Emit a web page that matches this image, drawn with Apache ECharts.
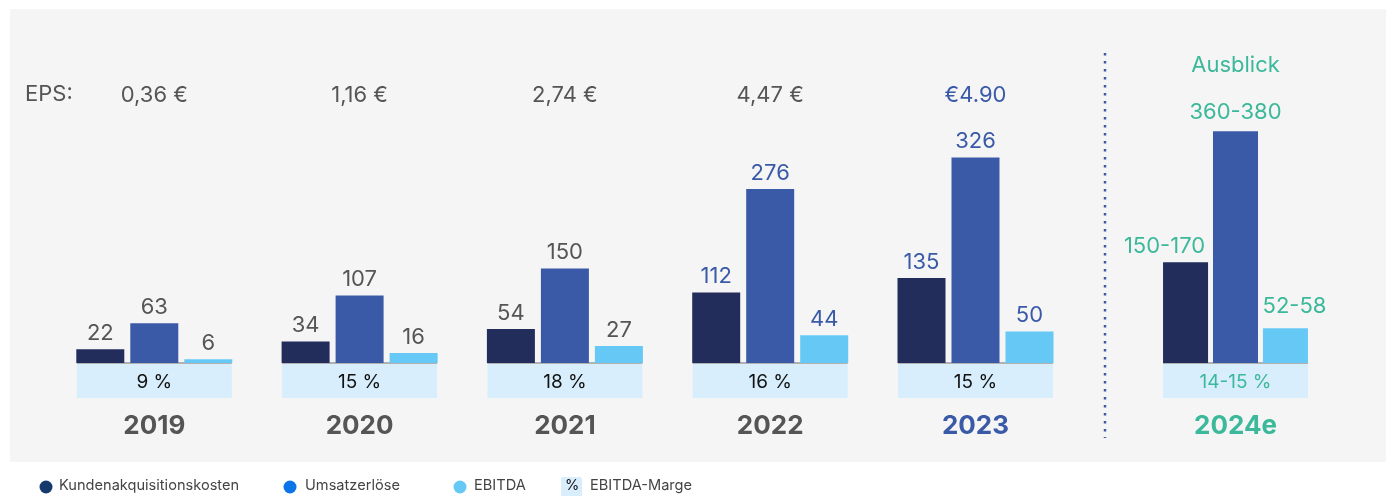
<!DOCTYPE html>
<html>
<head>
<meta charset="utf-8">
<script src="https://cdn.jsdelivr.net/npm/echarts@6/dist/echarts.min.js"></script>
<style>
html,body{margin:0;padding:0;background:#fff;}
#chart{width:1389px;height:496px;}
</style>
</head>
<body>
<div id="chart"></div>
<script>
// ---- data ----
const categories = ['2019', '2020', '2021', '2022', '2023'];
const kundenakquisitionskosten = [22, 34, 54, 112, 135];
const umsatzerloese = [63, 107, 150, 276, 326];
const ebitda = [6, 16, 27, 44, 50];
const ebitdaMarge = [9, 15, 18, 16, 15];
const epsLabels = ['0,36 €', '1,16 €', '2,74 €', '4,47 €', '€4.90'];

const outlookCategories = ['2024e'];
const outlookKak = [160];
const outlookKakLabel = ['150-170'];
const outlookUmsatz = [368];
const outlookUmsatzLabel = ['360-380'];
const outlookEbitda = [55];
const outlookEbitdaLabel = ['52-58'];
const outlookMarge = [14.5];
const outlookMargeLabel = ['14-15 %'];
const outlookTitle = ['Ausblick'];

const legendNames = ['Kundenakquisitionskosten', 'Umsatzerlöse', 'EBITDA', 'EBITDA-Marge'];

// ---- styles ----
const FONT = 'Inter, "Noto Sans", sans-serif';
const C_DARK = '#232d5c', C_BLUE = '#3a5aa8', C_LIGHT = '#66c8f4';
const C_GRAY = '#555555', C_GREEN = '#3cb89a';
const yearColors = [C_GRAY, C_GRAY, C_GRAY, C_GRAY, C_BLUE];
const valueColors = [C_GRAY, C_GRAY, C_GRAY, C_BLUE, C_BLUE];
const epsColors = [C_GRAY, C_GRAY, C_GRAY, C_GRAY, C_BLUE];

const chart = echarts.init(document.getElementById('chart'));

function valueLabel(color, text, offset) {
  const l = {show: true, position: 'top', distance: 5, color: color, fontFamily: FONT, fontSize: 22};
  if (text !== undefined) l.formatter = text;
  if (offset) l.offset = offset;
  return l;
}
function mkData(vals, colors, texts, offset) {
  return vals.map((v, i) => ({value: v, label: valueLabel(colors[i], texts ? texts[i] : undefined, offset)}));
}

function marginRenderer(labels, color, w) {
  return function (params, api) {
    const idx = api.value(0);
    const p = api.coord([idx, 0]);
    return {
      type: 'group',
      children: [
        {type: 'rect', shape: {x: p[0] - w / 2, y: p[1] + 1, width: w, height: 34}, style: {fill: '#d8eefc'}},
        {type: 'line', shape: {x1: p[0] - w / 2, y1: p[1], x2: p[0] + w / 2, y2: p[1]}, style: {stroke: '#9a9a9a', lineWidth: 1.5}},
        {type: 'text', style: {text: labels[params.dataIndex], x: p[0], y: p[1] + 19, align: 'center', verticalAlign: 'middle',
          fill: color, font: '19px ' + FONT}}
      ]
    };
  };
}

const gridTop = 111, gridBottom = 133;
const barCommon = {type: 'bar', barWidth: 48, barGap: '12.5%', z: 3};
const barOutlook = {type: 'bar', barWidth: 45, barGap: '11%', z: 3};

const option = {
  backgroundColor: '#ffffff',
  animation: false,
  grid: [
    {left: 51.65, width: 1026.5, top: gridTop, bottom: gridBottom},
    {left: 1135.5, width: 200, top: gridTop, bottom: gridBottom}
  ],
  xAxis: [
    {type: 'category', gridIndex: 0, data: categories, position: 'bottom',
      axisLine: {show: false}, axisTick: {show: false},
      axisLabel: {margin: 50, fontFamily: FONT, fontSize: 26, fontWeight: 'bold',
        color: (v, i) => yearColors[i]}},
    {type: 'category', gridIndex: 0, data: epsLabels, position: 'top',
      axisLine: {show: false}, axisTick: {show: false},
      axisLabel: {margin: 5, fontFamily: FONT, fontSize: 22, color: (v, i) => epsColors[i]}},
    {type: 'category', gridIndex: 1, data: outlookCategories, position: 'bottom',
      axisLine: {show: false}, axisTick: {show: false},
      axisLabel: {margin: 50, fontFamily: FONT, fontSize: 26, fontWeight: 'bold', color: C_GREEN}},
    {type: 'category', gridIndex: 1, data: outlookTitle, position: 'top',
      axisLine: {show: false}, axisTick: {show: false},
      axisLabel: {margin: 35, fontFamily: FONT, fontSize: 22, color: C_GREEN}}
  ],
  yAxis: [
    {type: 'value', gridIndex: 0, min: 0, max: 400, show: false},
    {type: 'value', gridIndex: 1, min: 0, max: 400, show: false}
  ],
  series: [
    Object.assign({}, barCommon, {name: legendNames[0], xAxisIndex: 0, yAxisIndex: 0,
      itemStyle: {color: C_DARK}, data: mkData(kundenakquisitionskosten, valueColors)}),
    Object.assign({}, barCommon, {name: legendNames[1], xAxisIndex: 0, yAxisIndex: 0,
      itemStyle: {color: C_BLUE}, data: mkData(umsatzerloese, valueColors)}),
    Object.assign({}, barCommon, {name: legendNames[2], xAxisIndex: 0, yAxisIndex: 0,
      itemStyle: {color: C_LIGHT}, data: mkData(ebitda, valueColors)}),
    {type: 'custom', name: legendNames[3], xAxisIndex: 0, yAxisIndex: 0, z: 2, clip: false,
      renderItem: marginRenderer(ebitdaMarge.map(v => v + ' %'), '#111111', 155),
      data: ebitdaMarge.map((v, i) => [i, v])},

    Object.assign({}, barOutlook, {name: legendNames[0], xAxisIndex: 2, yAxisIndex: 1,
      itemStyle: {color: C_DARK}, data: mkData(outlookKak, [C_GREEN], outlookKakLabel, [-21, 0])}),
    Object.assign({}, barOutlook, {name: legendNames[1], xAxisIndex: 2, yAxisIndex: 1,
      itemStyle: {color: C_BLUE}, data: mkData(outlookUmsatz, [C_GREEN], outlookUmsatzLabel, [0, -3])}),
    Object.assign({}, barOutlook, {name: legendNames[2], xAxisIndex: 2, yAxisIndex: 1,
      itemStyle: {color: C_LIGHT}, data: mkData(outlookEbitda, [C_GREEN], outlookEbitdaLabel, [9, -6])}),
    {type: 'custom', name: legendNames[3], xAxisIndex: 2, yAxisIndex: 1, z: 2, clip: false,
      renderItem: marginRenderer(outlookMargeLabel, C_GREEN, 145),
      data: outlookMarge.map((v, i) => [i, v])}
  ],
  graphic: [
    {type: 'rect', z: -100, silent: true, shape: {x: 10, y: 9, width: 1376, height: 453}, style: {fill: '#f5f5f5'}},
    {type: 'text', left: 25, top: 83, style: {text: 'EPS:', fill: C_GRAY, font: '22px ' + FONT}},
    {type: 'line', shape: {x1: 1105, y1: 53, x2: 1105, y2: 438},
      style: {stroke: C_BLUE, lineWidth: 2.5, lineDash: [2.5, 5.5]}},
    // legend
    {type: 'circle', shape: {cx: 46, cy: 487, r: 6.5}, style: {fill: '#163a6b'}},
    {type: 'text', left: 59, top: 478, style: {text: legendNames[0], fill: '#444', font: '14.6px ' + FONT}},
    {type: 'circle', shape: {cx: 290, cy: 487, r: 6.5}, style: {fill: '#0a74e8'}},
    {type: 'text', left: 305, top: 478, style: {text: legendNames[1], fill: '#444', font: '14.6px ' + FONT}},
    {type: 'circle', shape: {cx: 460, cy: 487, r: 6.5}, style: {fill: C_LIGHT}},
    {type: 'text', left: 474, top: 478, style: {text: legendNames[2], fill: '#444', font: '14.6px ' + FONT}},
    {type: 'rect', shape: {x: 561, y: 477, width: 21, height: 20, r: 2}, style: {fill: '#d8eefc'}},
    {type: 'text', left: 565, top: 478, style: {text: '%', fill: '#111', font: '14.6px ' + FONT}},
    {type: 'text', left: 590, top: 478, style: {text: legendNames[3], fill: '#444', font: '14.6px ' + FONT}}
  ]
};
chart.setOption(option);
</script>
</body>
</html>
